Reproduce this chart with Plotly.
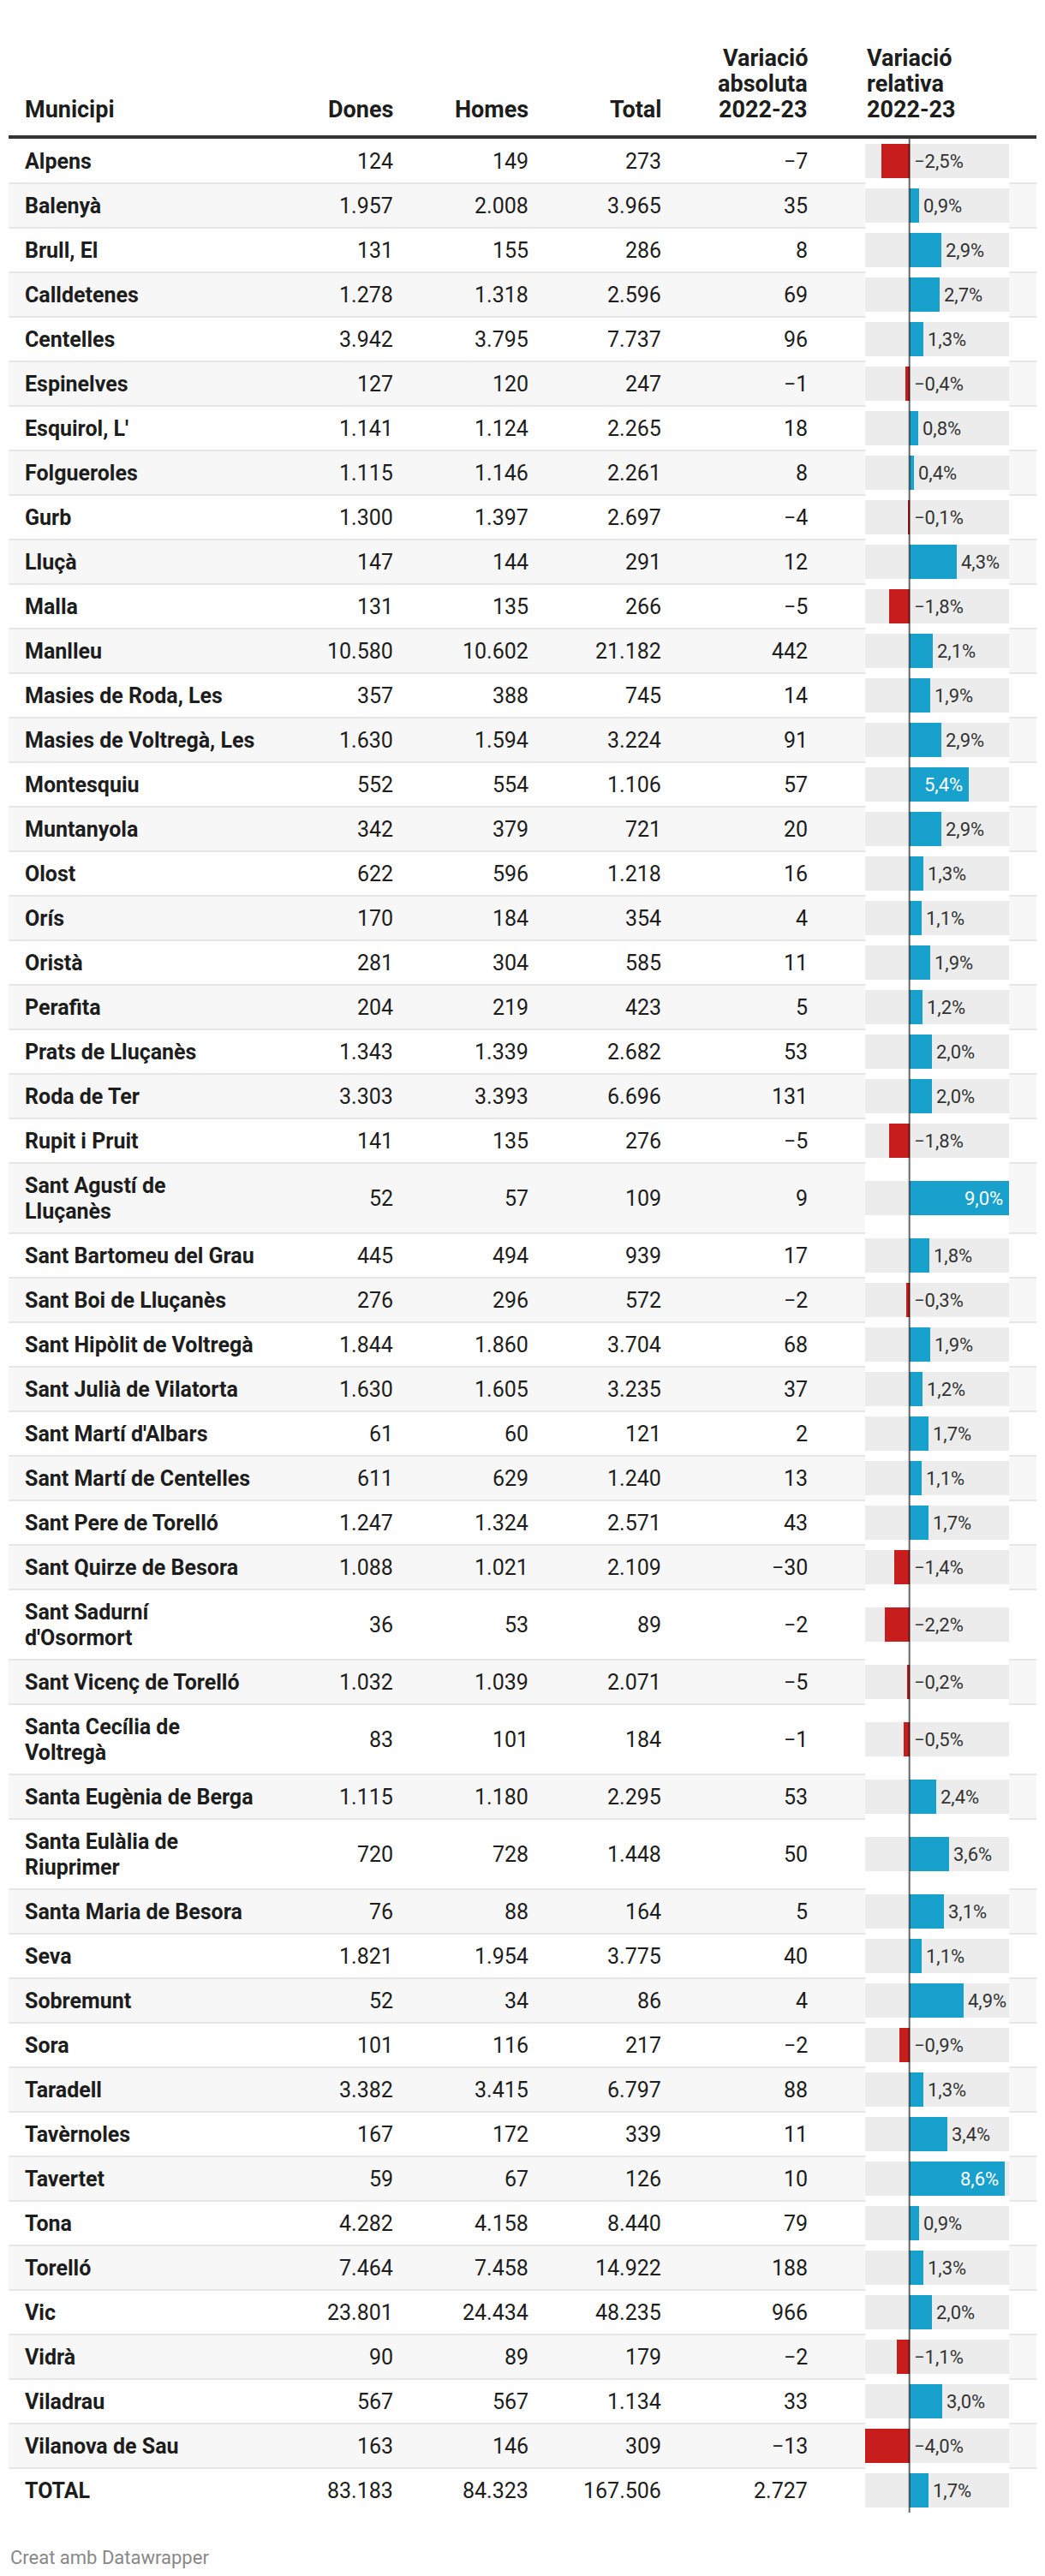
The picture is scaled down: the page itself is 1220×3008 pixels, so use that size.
import plotly.graph_objects as go

# ---------------- data ----------------
municipis = [
    "Alpens", "Balenyà", "Brull, El", "Calldetenes", "Centelles", "Espinelves",
    "Esquirol, L'", "Folgueroles", "Gurb", "Lluçà", "Malla", "Manlleu",
    "Masies de Roda, Les", "Masies de Voltregà, Les", "Montesquiu", "Muntanyola",
    "Olost", "Orís", "Oristà", "Perafita", "Prats de Lluçanès", "Roda de Ter",
    "Rupit i Pruit", "Sant Agustí de Lluçanès", "Sant Bartomeu del Grau",
    "Sant Boi de Lluçanès", "Sant Hipòlit de Voltregà", "Sant Julià de Vilatorta",
    "Sant Martí d'Albars", "Sant Martí de Centelles", "Sant Pere de Torelló",
    "Sant Quirze de Besora", "Sant Sadurní d'Osormort", "Sant Vicenç de Torelló",
    "Santa Cecília de Voltregà", "Santa Eugènia de Berga", "Santa Eulàlia de Riuprimer",
    "Santa Maria de Besora", "Seva", "Sobremunt", "Sora", "Taradell", "Tavèrnoles",
    "Tavertet", "Tona", "Torelló", "Vic", "Vidrà", "Viladrau", "Vilanova de Sau",
    "TOTAL",
]
dones = [124, 1957, 131, 1278, 3942, 127, 1141, 1115, 1300, 147, 131, 10580,
         357, 1630, 552, 342, 622, 170, 281, 204, 1343, 3303, 141, 52, 445,
         276, 1844, 1630, 61, 611, 1247, 1088, 36, 1032, 83, 1115, 720, 76,
         1821, 52, 101, 3382, 167, 59, 4282, 7464, 23801, 90, 567, 163, 83183]
homes = [149, 2008, 155, 1318, 3795, 120, 1124, 1146, 1397, 144, 135, 10602,
         388, 1594, 554, 379, 596, 184, 304, 219, 1339, 3393, 135, 57, 494,
         296, 1860, 1605, 60, 629, 1324, 1021, 53, 1039, 101, 1180, 728, 88,
         1954, 34, 116, 3415, 172, 67, 4158, 7458, 24434, 89, 567, 146, 84323]
total = [273, 3965, 286, 2596, 7737, 247, 2265, 2261, 2697, 291, 266, 21182,
         745, 3224, 1106, 721, 1218, 354, 585, 423, 2682, 6696, 276, 109, 939,
         572, 3704, 3235, 121, 1240, 2571, 2109, 89, 2071, 184, 2295, 1448, 164,
         3775, 86, 217, 6797, 339, 126, 8440, 14922, 48235, 179, 1134, 309, 167506]
var_abs = [-7, 35, 8, 69, 96, -1, 18, 8, -4, 12, -5, 442, 14, 91, 57, 20, 16,
           4, 11, 5, 53, 131, -5, 9, 17, -2, 68, 37, 2, 13, 43, -30, -2, -5, -1,
           53, 50, 5, 40, 4, -2, 88, 11, 10, 79, 188, 966, -2, 33, -13, 2727]
var_rel = [-2.5, 0.9, 2.9, 2.7, 1.3, -0.4, 0.8, 0.4, -0.1, 4.3, -1.8, 2.1, 1.9,
           2.9, 5.4, 2.9, 1.3, 1.1, 1.9, 1.2, 2.0, 2.0, -1.8, 9.0, 1.8, -0.3,
           1.9, 1.2, 1.7, 1.1, 1.7, -1.4, -2.2, -0.2, -0.5, 2.4, 3.6, 3.1, 1.1,
           4.9, -0.9, 1.3, 3.4, 8.6, 0.9, 1.3, 2.0, -1.1, 3.0, -4.0, 1.7]

headers = [["Municipi"], ["Dones"], ["Homes"], ["Total"],
           ["Variació", "absoluta", "2022-23"], ["Variació", "relativa", "2022-23"]]
footer_text = "Creat amb Datawrapper"

# how the long names wrap inside the first column
wrap_names = {
    "Sant Agustí de Lluçanès": ["Sant Agustí de", "Lluçanès"],
    "Sant Sadurní d'Osormort": ["Sant Sadurní", "d'Osormort"],
    "Santa Cecília de Voltregà": ["Santa Cecília de", "Voltregà"],
    "Santa Eulàlia de Riuprimer": ["Santa Eulàlia de", "Riuprimer"],
}

# ---------------- style / layout (page pixel coordinates) ----------------
PAGE_W, PAGE_H = 1220, 3008
BODY_MARGIN = 8            # default browser body margin around the plot div
W, H = PAGE_W - 2 * BODY_MARGIN, PAGE_H - 2 * BODY_MARGIN
FONT = "Roboto"
TXT = "#1d1d1d"
LEFT, RIGHT = 10, 1210
NAME_X = 27
COL_RIGHT = [461, 619, 774, 945]
BAR_X0, BAR_X1 = 1010, 1178
HEADER_LINE_Y = 160
HEAD_LAST_Y = 128          # centre of the last header line
HEAD_PITCH = 30
ROW_TOP = 162
ROW_H, LINE_H = 52, 30
BAR_H = 40
BODY_SIZE = 25
HEAD_SIZE = 27
LABEL_SIZE = 22
FOOTER_Y = 2986
BLUE, RED = "#18a1cd", "#c71e1d"


def fmt_int(v):
    s = f"{abs(v):,}".replace(",", ".")
    return ("\u2212" if v < 0 else "") + s


def fmt_pct(v):
    s = f"{abs(v):.1f}".replace(".", ",")
    return ("\u2212" if v < 0 else "") + s + "%"


# row geometry derived from the data
n = len(municipis)
name_lines = [wrap_names.get(m, [m]) for m in municipis]
heights = [ROW_H + LINE_H * (len(l) - 1) for l in name_lines]
tops, centers = [], []
y = ROW_TOP
for h in heights:
    tops.append(y)
    centers.append(y + h / 2)
    y += h
bottom = y

xmin, xmax = min(var_rel), max(var_rel)
px_per_unit = (BAR_X1 - BAR_X0) / (xmax - xmin)

fig = go.Figure()

# grey background track behind each bar
fig.add_trace(go.Bar(
    orientation="h", y=centers, x=[xmax - xmin] * n, base=[xmin] * n,
    width=BAR_H, marker=dict(color="rgba(0,0,0,0.075)", line=dict(width=0)),
    xaxis="x2", yaxis="y", hoverinfo="skip", showlegend=False,
))
# value bars
fig.add_trace(go.Bar(
    orientation="h", y=centers, x=var_rel, base=[0] * n, width=BAR_H,
    marker=dict(color=[BLUE if v >= 0 else RED for v in var_rel], line=dict(width=0)),
    xaxis="x2", yaxis="y", showlegend=False,
))

shapes = []
annotations = []

# alternating row backgrounds and separators
for i in range(n):
    if i % 2 == 1:
        shapes.append(dict(type="rect", xref="x", yref="y", x0=LEFT, x1=RIGHT,
                           y0=tops[i], y1=tops[i] + heights[i],
                           fillcolor="#f7f7f7", line=dict(width=0), layer="below"))
    if i > 0:
        shapes.append(dict(type="line", xref="x", yref="y", x0=LEFT, x1=RIGHT,
                           y0=tops[i], y1=tops[i],
                           line=dict(color="#e6e6e6", width=2), layer="below"))

# header rule
shapes.append(dict(type="line", xref="x", yref="y", x0=LEFT, x1=RIGHT,
                   y0=HEADER_LINE_Y, y1=HEADER_LINE_Y,
                   line=dict(color="#333333", width=4)))
# zero line of the bar column
shapes.append(dict(type="line", xref="x2", yref="y", x0=0, x1=0,
                   y0=ROW_TOP, y1=bottom,
                   line=dict(color="rgba(0,0,0,0.6)", width=2)))


def add_lines(lines, x, cy, pitch, anchor, font, xref="x", xshift=0):
    """Add a block of text lines centred vertically on cy."""
    k = len(lines)
    for j, t in enumerate(lines):
        yy = cy + (j - (k - 1) / 2) * pitch
        annotations.append(dict(x=x, y=yy, xref=xref, yref="y", text=t,
                                xanchor=anchor, yanchor="middle", align=anchor,
                                xshift=xshift, showarrow=False, font=font))


# header texts (bottom aligned)
head_font = dict(family=FONT, size=HEAD_SIZE, color=TXT, weight="bold")
head_x = [NAME_X] + COL_RIGHT + [BAR_X0]
head_anchor = ["left", "right", "right", "right", "right", "left"]
for lines, hx, anc in zip(headers, head_x, head_anchor):
    k = len(lines)
    cy = HEAD_LAST_Y - (k - 1) / 2 * HEAD_PITCH
    add_lines(lines, hx, cy, HEAD_PITCH, anc, head_font)

body_font = dict(family=FONT, size=BODY_SIZE, color=TXT)
name_font = dict(family=FONT, size=BODY_SIZE, color=TXT, weight="bold")
label_font = dict(family=FONT, size=LABEL_SIZE, color="#333333")
label_font_in = dict(family=FONT, size=LABEL_SIZE, color="#ffffff")
label_w_units = 50 / px_per_unit

for i in range(n):
    cy = centers[i]
    add_lines(name_lines[i], NAME_X, cy, LINE_H, "left", name_font)
    for col, vals in zip(COL_RIGHT, [dones, homes, total, var_abs]):
        add_lines([fmt_int(vals[i])], col, cy, LINE_H, "right", body_font)
    v = var_rel[i]
    if v >= 0 and v + label_w_units > xmax:
        add_lines([fmt_pct(v)], v, cy, LINE_H, "right", label_font_in, xref="x2", xshift=-5)
    else:
        add_lines([fmt_pct(v)], max(v, 0), cy, LINE_H, "left", label_font, xref="x2", xshift=3)

annotations.append(dict(x=LEFT, y=FOOTER_Y, xref="x", yref="y", text=footer_text,
                        xanchor="left", yanchor="middle", showarrow=False,
                        font=dict(family=FONT, size=22, color="#888888")))

fig.update_layout(
    width=W, height=H, margin=dict(l=0, r=0, t=0, b=0),
    paper_bgcolor="white", plot_bgcolor="white",
    barmode="overlay", bargap=0,
    xaxis=dict(range=[BODY_MARGIN, BODY_MARGIN + W], domain=[0, 1],
               visible=False, fixedrange=True),
    xaxis2=dict(range=[xmin, xmax],
                domain=[(BAR_X0 - BODY_MARGIN) / W, (BAR_X1 - BODY_MARGIN) / W],
                anchor="y", visible=False, fixedrange=True),
    yaxis=dict(range=[BODY_MARGIN + H, BODY_MARGIN], domain=[0, 1],
               visible=False, fixedrange=True),
    shapes=shapes, annotations=annotations, showlegend=False,
)

fig.write_html("out.html")
